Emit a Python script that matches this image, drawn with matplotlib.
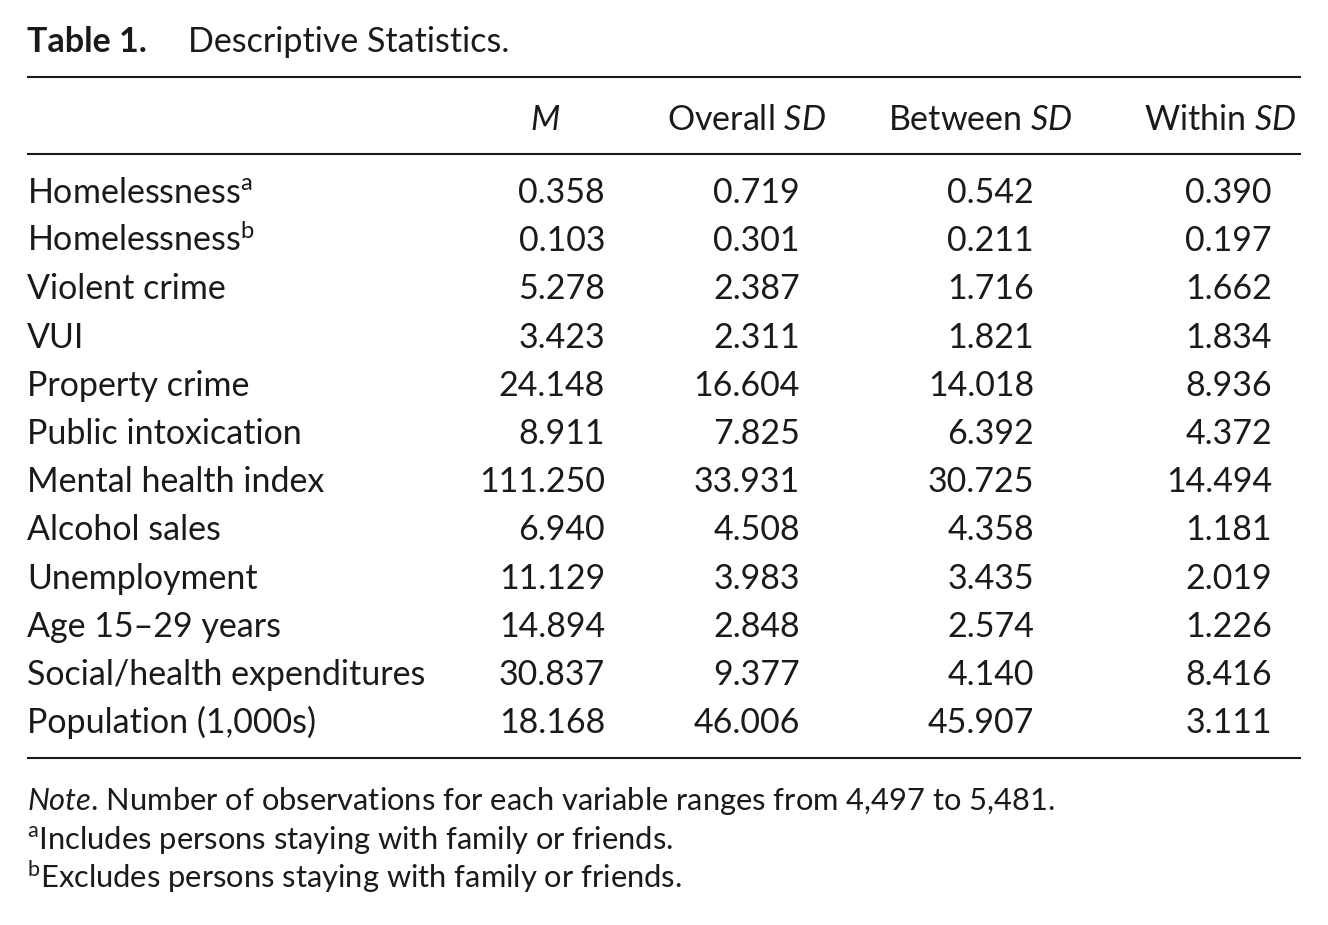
import matplotlib
matplotlib.use("Agg")
import matplotlib.pyplot as plt

plt.rcParams['font.family'] = ['Lato', 'DejaVu Sans']
plt.rcParams['mathtext.fontset'] = 'custom'
plt.rcParams['mathtext.rm'] = 'Lato'
plt.rcParams['mathtext.it'] = 'Lato:italic'

variables = ["Homelessness$^{\\mathrm{a}}$", "Homelessness$^{\\mathrm{b}}$",
             "Violent crime", "VUI", "Property crime", "Public intoxication",
             "Mental health index", "Alcohol sales", "Unemployment",
             "Age 15–29 years", "Social/health expenditures",
             "Population (1,000s)"]
mean = [0.358, 0.103, 5.278, 3.423, 24.148, 8.911, 111.250, 6.940,
        11.129, 14.894, 30.837, 18.168]
overall_sd = [0.719, 0.301, 2.387, 2.311, 16.604, 7.825, 33.931, 4.508,
              3.983, 2.848, 9.377, 46.006]
between_sd = [0.542, 0.211, 1.716, 1.821, 14.018, 6.392, 30.725, 4.358,
              3.435, 2.574, 4.140, 45.907]
within_sd = [0.390, 0.197, 1.662, 1.834, 8.936, 4.372, 14.494, 1.181,
             2.019, 1.226, 8.416, 3.111]
headers = ["$\\mathit{M}$", "Overall $\\mathit{SD}$",
           "Between $\\mathit{SD}$", "Within $\\mathit{SD}$"]
notes = ["$\\mathit{Note}$. Number of observations for each variable ranges from 4,497 to 5,481.",
         "$^{\\mathrm{a}}$Includes persons staying with family or friends.",
         "$^{\\mathrm{b}}$Excludes persons staying with family or friends."]

W, H = 1328, 925
fig = plt.figure(figsize=(W / 100, H / 100), dpi=100)
ax = fig.add_axes([0, 0, 1, 1])
ax.set_xlim(0, W)
ax.set_ylim(H, 0)
ax.axis('off')

fs = 24.5
ink = '#1a1a1a'

# titulo
ax.text(27, 52, "Table 1.", fontsize=fs, fontweight='bold', color=ink,
        va='baseline')
ax.text(188, 52, "Descriptive Statistics.", fontsize=fs, color=ink,
        va='baseline')

# reglas
for y in [77, 154, 758]:
    ax.hlines(y, 27, 1301, color=ink, lw=1.5)

# encabezados
head_x = [560, 826, 1072, 1296]
for x, h in zip(head_x, headers):
    ax.text(x, 130, h, fontsize=fs, color=ink, ha='right', va='baseline')

# filas
col_x = [605, 800, 1034, 1272]
row0, step = 203, 48.2
for i, name in enumerate(variables):
    y = row0 + i * step
    ax.text(27, y, name, fontsize=fs, color=ink, va='baseline')
    for x, col in zip(col_x, [mean, overall_sd, between_sd, within_sd]):
        ax.text(x, y, f"{col[i]:.3f}", fontsize=fs, color=ink,
                ha='right', va='baseline')

# notas
for y, n in zip([810, 849, 888], notes):
    ax.text(27, y, n, fontsize=22.2, color=ink, va='baseline')

fig.savefig("out.png", dpi=100)
